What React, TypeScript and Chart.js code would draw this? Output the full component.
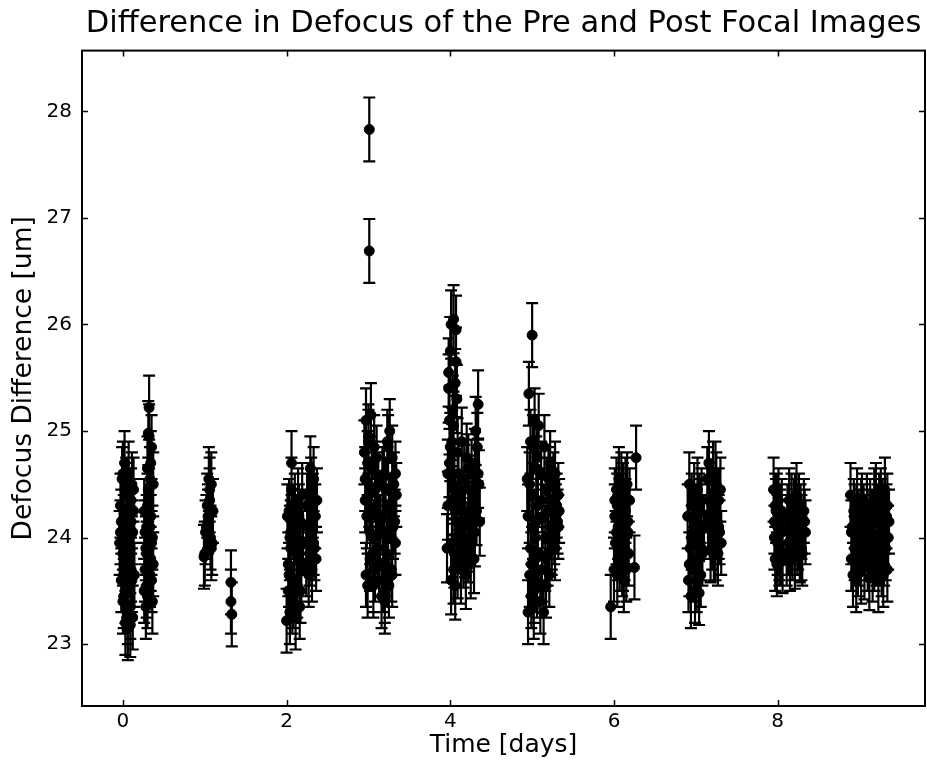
import React, { useEffect, useRef } from "react";
import { Chart, registerables } from "chart.js";

Chart.register(...registerables);

const FONT = "'DejaVu Sans', sans-serif";
const TITLE = "Difference in Defocus of the Pre and Post Focal Images";
const X_LABEL = "Time [days]";
const Y_LABEL = "Defocus Difference [um]";

const X_MIN = -0.5;
const X_MAX = 9.8;
const Y_MIN = 22.42;
const Y_MAX = 28.57;

const xTickValues = [0, 2, 4, 6, 8];
const yTickValues = [23, 24, 25, 26, 27, 28];

// Day 0
const day0Times = [
  -0.04, -0.03, -0.02, -0.01, 0.0, 0.01, 0.02, 0.02, 0.03, 0.04, 0.04, 0.05, 0.06, 0.06, 0.07,
  0.08, 0.08, 0.09, 0.1, 0.1, 0.11, 0.12, 0.12, 0.13, 0.14, -0.02, 0.0, 0.03, 0.05, 0.09,
  -0.03, 0.01, 0.04, 0.07, 0.11, 0.13, 0.0, 0.06, 0.1, 0.02,
  0.26, 0.27, 0.28, 0.29, 0.3, 0.3, 0.31, 0.32, 0.32, 0.33, 0.34, 0.34, 0.35, 0.36, 0.36,
  0.37, 0.28, 0.31, 0.33, 0.35, 0.29, 0.27,
  0.26, 0.29, 0.31, 0.33, 0.35, 0.37, 0.3, 0.34,
];
const day0Values = [
  23.95, 24.3, 23.6, 24.55, 23.4, 24.1, 23.75, 24.7, 23.2, 24.45, 23.9, 23.55, 24.2, 23.15, 24.6,
  23.8, 24.0, 23.35, 24.35, 23.7, 24.5, 23.25, 24.05, 24.25, 23.65, 24.15, 23.85, 23.5, 24.4, 23.18,
  24.05, 23.45, 24.25, 23.9, 23.6, 24.45, 24.6, 23.3, 24.15, 23.7,
  23.5, 23.7, 23.9, 24.1, 24.3, 24.65, 24.98, 25.22, 24.95, 24.55, 24.2, 23.8, 23.6, 23.4, 24.0,
  23.75, 23.35, 24.45, 23.65, 24.85, 23.55, 24.05,
  24.25, 23.85, 24.35, 24.1, 23.95, 24.5, 23.45, 24.7,
];

// Day 1
const day1Times = [
  0.99, 1.0, 1.01, 1.02, 1.03, 1.04, 1.05, 1.06, 1.07, 1.08, 1.09, 1.1, 1.06, 1.08, 1.04,
  1.32, 1.32, 1.33,
];
const day1Values = [
  23.82, 23.85, 24.05, 24.1, 24.3, 24.2, 24.55, 24.45, 24.0, 24.5, 23.95, 24.25, 24.35, 23.9, 24.15,
  23.58, 23.4, 23.28,
];

// Day 2
const day2Times = [
  2.0, 2.01, 2.02, 2.03, 2.04, 2.05, 2.06, 2.07, 2.08, 2.09, 2.1, 2.11, 2.12, 2.13, 2.14,
  2.15, 2.16, 2.17, 2.18, 2.19, 2.2, 2.02, 2.05, 2.08, 2.12, 2.15,
  2.03, 2.06, 2.09, 2.13, 2.17, 2.04,
  2.24, 2.26, 2.27, 2.28, 2.29, 2.3, 2.31, 2.32, 2.33, 2.34, 2.35, 2.36, 2.3, 2.27,
  2.25, 2.29, 2.33, 2.37,
];
const day2Values = [
  23.22, 24.2, 23.5, 24.25, 23.3, 23.9, 24.7, 23.4, 24.1, 23.6, 24.3, 23.25, 24.0, 23.55, 24.35,
  23.8, 23.35, 24.15, 23.7, 24.4, 23.95, 23.75, 24.05, 23.45, 23.85, 24.2,
  23.65, 24.45, 23.9, 24.1, 23.5, 24.0,
  23.75, 24.1, 24.4, 23.85, 24.65, 24.0, 23.7, 24.3, 24.55, 23.9, 24.2, 23.8, 24.45, 23.65,
  24.3, 24.05, 23.95, 24.35,
];

// Day 3
const day3Times = [
  2.95, 2.96, 2.97, 2.98, 2.99, 3.0, 3.01, 3.02, 3.03, 3.04, 3.05, 3.06, 3.07, 3.08, 3.09,
  3.1, 3.11, 3.12, 3.13, 3.14, 2.97, 3.0, 3.03, 3.06, 3.09, 3.01, 3.01,
  2.96, 2.99, 3.02, 3.05, 3.08, 3.11,
  3.16, 3.17, 3.18, 3.19, 3.2, 3.21, 3.22, 3.23, 3.24, 3.25, 3.26, 3.27, 3.28, 3.29, 3.3,
  3.31, 3.32, 3.33, 3.34, 3.2, 3.24, 3.28,
  3.17, 3.21, 3.25, 3.29, 3.33, 3.19,
];
const day3Values = [
  24.8, 24.55, 25.1, 24.2, 23.55, 24.9, 24.4, 23.8, 25.15, 24.65, 24.0, 23.6, 24.85, 23.7, 24.3,
  24.75, 23.9, 24.5, 23.75, 24.1, 23.65, 24.95, 24.25, 23.55, 24.6, 27.83, 26.69,
  24.35, 24.7, 24.05, 23.85, 24.45, 24.2,
  23.45, 24.2, 23.6, 24.6, 23.4, 24.45, 23.85, 24.9, 24.0, 23.55, 25.0, 24.3, 23.7, 24.75, 24.1,
  24.5, 24.15, 23.95, 24.4, 23.5, 24.85, 24.25,
  24.55, 23.75, 24.3, 23.65, 24.6, 24.05,
];

// Day 4
const day4Times = [
  3.96, 3.97, 3.98, 3.99, 4.0, 4.01, 4.02, 4.03, 4.04, 4.05, 4.06, 4.07, 4.08, 4.09, 4.1,
  4.11, 3.98, 4.0, 4.02, 4.04, 4.06, 4.08, 4.01, 4.03, 4.05, 4.07,
  3.97, 3.99, 4.02, 4.04, 4.06, 4.09,
  4.12, 4.13, 4.14, 4.15, 4.16, 4.17, 4.18, 4.19, 4.2, 4.21, 4.22, 4.23, 4.24, 4.25, 4.26,
  4.27, 4.28, 4.29, 4.3, 4.31, 4.32, 4.33, 4.34, 4.35, 4.36,
  4.14, 4.18, 4.22, 4.26, 4.3, 4.34,
];
const day4Values = [
  23.9, 24.3, 25.4, 24.7, 25.75, 23.6, 24.9, 25.2, 26.05, 24.45, 23.55, 25.95, 24.15, 23.75, 24.6,
  24.0, 25.55, 24.85, 23.95, 25.05, 24.25, 25.3, 26.0, 24.5, 23.85, 25.65,
  24.6, 25.1, 24.35, 23.7, 25.45, 24.8,
  24.3, 23.7, 24.9, 24.1, 23.85, 24.55, 24.2, 23.65, 24.75, 24.0, 23.9, 24.45, 24.15, 23.75, 24.6,
  24.05, 24.35, 23.8, 24.7, 25.0, 24.25, 24.85, 25.25, 24.5, 24.15,
  24.45, 23.95, 24.65, 24.25, 24.05, 24.6,
];

// Day 5
const day5Times = [
  4.94, 4.95, 4.96, 4.97, 4.98, 4.99, 5.0, 5.01, 5.02, 5.03, 5.04, 5.05, 5.06, 5.07, 5.08,
  4.98, 5.0, 5.02, 5.04, 5.06,
  4.95, 4.97, 4.99, 5.01, 5.03, 5.05, 5.07,
  5.1, 5.11, 5.12, 5.13, 5.14, 5.15, 5.16, 5.17, 5.18, 5.19, 5.2, 5.21, 5.22, 5.23, 5.24,
  5.25, 5.26, 5.27, 5.28, 5.29, 5.3, 5.31, 5.32, 5.33,
  5.12, 5.16, 5.2, 5.24, 5.28, 5.32,
];
const day5Values = [
  24.55, 23.3, 25.35, 23.65, 24.9, 23.45, 25.9, 24.1, 23.35, 25.1, 23.8, 24.65, 23.55, 24.3, 25.05,
  23.9, 24.4, 23.5, 24.0, 24.75,
  24.2, 24.5, 23.75, 24.85, 23.6, 24.15, 23.85,
  23.4, 24.6, 23.7, 24.2, 23.3, 24.85, 24.0, 23.55, 24.45, 23.85, 24.25, 23.65, 24.7, 24.1, 23.95,
  24.35, 24.5, 24.05, 24.6, 24.2, 24.3, 24.15, 24.4, 24.25,
  24.35, 23.8, 24.55, 24.0, 23.9, 24.1,
];

// Day 6
const day6Times = [
  5.96, 6.0, 6.01, 6.02, 6.03, 6.04, 6.05, 6.06, 6.07, 6.08, 6.09, 6.1, 6.11, 6.12, 6.13,
  6.14, 6.15, 6.16, 6.17, 6.18, 6.19, 6.02, 6.06, 6.1, 6.14, 6.04, 6.12,
  6.01, 6.05, 6.09, 6.13, 6.17, 6.03, 6.11,
  6.25, 6.27,
];
const day6Values = [
  23.35, 23.7, 24.2, 23.95, 24.45, 23.65, 24.1, 24.55, 23.8, 24.3, 24.0, 23.75, 24.4, 24.15, 23.9,
  24.25, 23.7, 24.5, 24.05, 23.85, 24.35, 23.95, 24.2, 23.75, 24.45, 24.3, 23.6,
  24.35, 23.9, 24.5, 24.0, 24.15, 24.05, 23.8,
  23.72, 24.75,
];

// Day 7
const day7Times = [
  6.9, 6.91, 6.92, 6.93, 6.94, 6.95, 6.96, 6.97, 6.98, 6.99, 7.0, 7.01, 7.02, 7.03, 7.04,
  7.05, 7.06, 7.07, 7.08, 7.1,
  6.92, 6.95, 6.98, 7.01, 7.04, 7.07,
  7.14, 7.15, 7.16, 7.17, 7.18, 7.19, 7.2, 7.21, 7.22, 7.23, 7.24, 7.25, 7.26, 7.27, 7.28,
  7.29, 7.3, 7.31,
  7.16, 7.2, 7.24, 7.28,
];
const day7Values = [
  24.2, 23.6, 24.5, 23.9, 23.45, 24.3, 24.05, 23.7, 24.4, 23.5, 24.15, 23.8, 24.45, 23.95, 23.48,
  24.25, 23.65, 24.35, 23.85, 24.1,
  23.75, 24.0, 24.2, 23.6, 24.3, 23.9,
  24.55, 24.2, 24.7, 24.1, 23.88, 24.4, 24.0, 24.6, 23.9, 24.25, 23.9, 24.5, 24.15, 23.85, 24.35,
  24.05, 24.45, 23.95,
  24.35, 24.15, 24.6, 24.1,
];

// Day 8
const day8Times = [
  7.95, 7.96, 7.97, 7.98, 7.99, 8.0, 8.01, 8.02, 8.03, 8.04, 8.05, 8.06, 7.97, 8.0, 8.03,
  7.96, 7.99, 8.02, 8.05,
  8.11, 8.12, 8.13, 8.14, 8.15, 8.16, 8.17, 8.18, 8.19, 8.2, 8.21, 8.22, 8.23, 8.24, 8.25,
  8.26, 8.27, 8.28, 8.29, 8.3, 8.32, 8.34,
  8.13, 8.17, 8.21, 8.25, 8.29, 8.33,
];
const day8Values = [
  24.45, 24.0, 23.8, 24.25, 23.75, 24.1, 24.35, 23.9, 24.2, 23.85, 24.05, 23.78, 24.3, 23.95, 24.15,
  24.15, 24.3, 23.85, 24.25,
  23.85, 24.2, 23.95, 24.35, 23.8, 24.1, 24.3, 23.9, 24.05, 24.25, 23.82, 24.15, 24.4, 23.95, 24.0,
  24.3, 23.88, 24.2, 24.1, 23.85, 24.25, 24.05,
  24.1, 23.95, 24.3, 24.2, 23.9, 24.15,
];

// Day 9
const day9Times = [
  8.89, 8.9, 8.91, 8.92, 8.93, 8.94, 8.95, 8.96, 8.97, 8.98, 8.99, 9.0, 9.01, 9.02, 9.03,
  9.04, 9.05, 9.06, 9.07, 9.09, 9.1, 9.11, 9.12, 9.13, 9.14, 9.15, 9.16, 9.17, 9.18, 9.2,
  9.21, 9.22, 9.23, 9.24, 9.25, 9.26, 9.27, 9.28, 9.29, 9.3, 9.31, 9.32, 9.33, 9.34, 9.35,
  9.36,
  8.9, 8.94, 8.98, 9.02, 9.06, 9.1, 9.14, 9.18, 9.22, 9.26, 9.3, 9.34,
];
const day9Values = [
  24.4, 23.8, 24.1, 23.65, 24.25, 23.9, 24.05, 23.6, 24.35, 23.75, 24.15, 23.85, 24.0, 23.68, 24.3,
  23.95, 24.2, 23.72, 24.1, 24.3, 23.8, 24.05, 23.62, 24.25, 23.9, 24.15, 23.7, 24.0, 24.35, 24.4,
  23.85, 24.2, 23.6, 24.3, 23.95, 24.1, 23.75, 24.25, 23.65, 24.05, 24.45, 23.9, 24.2, 23.7, 24.0,
  24.15,
  24.05, 24.2, 23.95, 24.25, 23.9, 24.15, 24.05, 23.8, 24.0, 24.35, 23.85, 24.3,
];

// One-sigma uncertainty per day [um]
const dayErrors = [0.3, 0.3, 0.3, 0.3, 0.32, 0.3, 0.3, 0.3, 0.3, 0.3];

const dayTimes = [day0Times, day1Times, day2Times, day3Times, day4Times, day5Times, day6Times, day7Times, day8Times, day9Times];
const dayValues = [day0Values, day1Values, day2Values, day3Values, day4Values, day5Values, day6Values, day7Values, day8Values, day9Values];

type Pt = { x: number; y: number; err: number };

function buildPoints(): Pt[] {
  const pts: Pt[] = [];
  dayTimes.forEach((times, d) => {
    const vals = dayValues[d];
    const n = Math.min(times.length, vals.length);
    for (let i = 0; i < n; i++) pts.push({ x: times[i], y: vals[i], err: dayErrors[d] });
  });
  return pts;
}

const errorBarsPlugin = {
  id: "errorBars",
  beforeDatasetsDraw(chart: any) {
    const { ctx, scales } = chart;
    const xs = scales.x;
    const ys = scales.y;
    const data = chart.data.datasets[0].data as Pt[];
    ctx.save();
    ctx.strokeStyle = "#000";
    ctx.lineWidth = 2.2;
    ctx.beginPath();
    for (const p of data) {
      const px = xs.getPixelForValue(p.x);
      const top = ys.getPixelForValue(p.y + p.err);
      const bot = ys.getPixelForValue(p.y - p.err);
      ctx.moveTo(px, top);
      ctx.lineTo(px, bot);
      ctx.moveTo(px - 6, top);
      ctx.lineTo(px + 6, top);
      ctx.moveTo(px - 6, bot);
      ctx.lineTo(px + 6, bot);
    }
    ctx.stroke();
    ctx.restore();
  },
};

const framePlugin = {
  id: "frame",
  afterDraw(chart: any) {
    const { ctx, chartArea, scales } = chart;
    const { left, right, top, bottom } = chartArea;
    ctx.save();
    ctx.strokeStyle = "#000";
    ctx.lineWidth = 1.5;
    ctx.beginPath();
    const len = 6;
    for (const v of xTickValues) {
      const px = Math.round(scales.x.getPixelForValue(v)) + 0.5;
      ctx.moveTo(px, bottom);
      ctx.lineTo(px, bottom - len);
      ctx.moveTo(px, top);
      ctx.lineTo(px, top + len);
    }
    for (const v of yTickValues) {
      const py = Math.round(scales.y.getPixelForValue(v)) + 0.5;
      ctx.moveTo(left, py);
      ctx.lineTo(left + len, py);
      ctx.moveTo(right, py);
      ctx.lineTo(right - len, py);
    }
    ctx.stroke();
    ctx.lineWidth = 2;
    ctx.strokeRect(left, top, right - left, bottom - top);
    ctx.restore();
  },
};

export default function App() {
  const canvasRef = useRef<HTMLCanvasElement | null>(null);

  useEffect(() => {
    const canvas = canvasRef.current;
    if (!canvas) return;
    const points = buildPoints();
    const chart = new Chart(canvas, {
      type: "scatter",
      data: {
        datasets: [
          {
            data: points as any,
            backgroundColor: "#000",
            borderColor: "#000",
            borderWidth: 1,
            pointRadius: 5,
            pointHoverRadius: 5,
          },
        ],
      },
      options: {
        animation: false,
        responsive: false,
        events: [],
        layout: { autoPadding: false, padding: { left: 0, right: 2, top: 0, bottom: 0 } },
        plugins: {
          legend: { display: false },
          tooltip: { enabled: false },
          title: {
            display: true,
            text: TITLE,
            fullSize: false,
            color: "#000",
            font: { family: FONT, size: 30.5, weight: "normal" },
            padding: { top: 6, bottom: 8 },
          },
        },
        scales: {
          x: {
            type: "linear",
            min: X_MIN,
            max: X_MAX,
            afterBuildTicks: (s: any) => {
              s.ticks = xTickValues.map((v) => ({ value: v }));
            },
            afterFit: (s: any) => {
              s.height = 59;
              s.paddingLeft = 0;
              s.paddingRight = 0;
            },
            grid: { display: false, drawTicks: false },
            border: { display: false },
            ticks: {
              color: "#000",
              font: { family: FONT, size: 20 },
              padding: 4,
              maxRotation: 0,
              autoSkip: false,
            },
            title: {
              display: true,
              text: X_LABEL,
              color: "#000",
              font: { family: FONT, size: 25 },
              padding: { top: 0, bottom: 5 },
            },
          },
          y: {
            type: "linear",
            min: Y_MIN,
            max: Y_MAX,
            afterBuildTicks: (s: any) => {
              s.ticks = yTickValues.map((v) => ({ value: v }));
            },
            afterFit: (s: any) => {
              s.width = 82;
              s.paddingTop = 0;
              s.paddingBottom = 0;
            },
            grid: { display: false, drawTicks: false },
            border: { display: false },
            ticks: {
              color: "#000",
              font: { family: FONT, size: 20 },
              padding: 10,
              autoSkip: false,
            },
            title: {
              display: true,
              text: Y_LABEL,
              color: "#000",
              font: { family: FONT, size: 26.5 },
              padding: { top: 8, bottom: 0 },
            },
          },
        },
      } as any,
      plugins: [errorBarsPlugin, framePlugin],
    });
    return () => chart.destroy();
  }, []);

  return (
    <div style={{ position: "absolute", left: 0, top: 0, width: 927, height: 765, background: "#fff" }}>
      <canvas ref={canvasRef} width={927} height={765} style={{ display: "block" }} />
    </div>
  );
}
